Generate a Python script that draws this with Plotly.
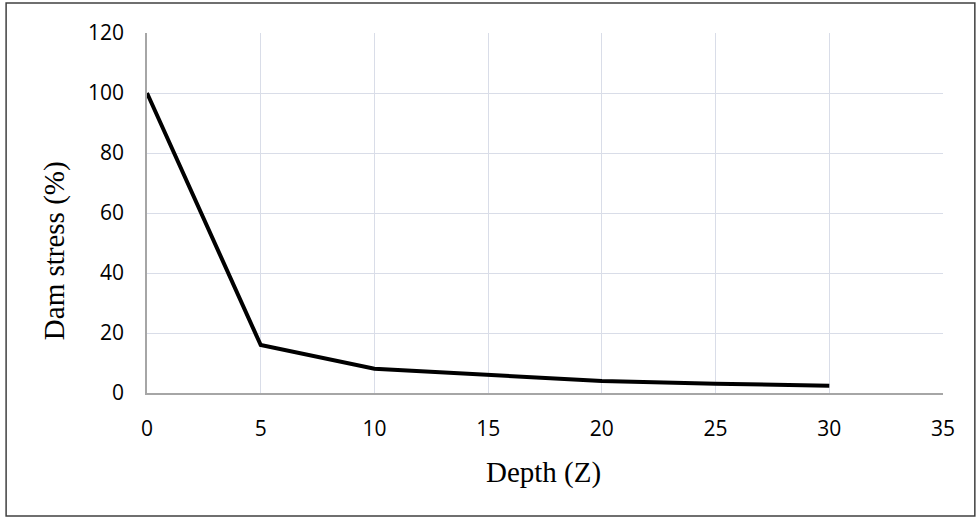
import plotly.graph_objects as go

depth = [0, 5, 10, 15, 20, 25, 30]
stress = [100, 16, 8.1, 5.9, 4.0, 3.1, 2.4]
x_ticks = [0, 5, 10, 15, 20, 25, 30, 35]
y_ticks = [0, 20, 40, 60, 80, 100, 120]

fig = go.Figure()
fig.add_trace(go.Scatter(x=depth, y=stress, mode="lines",
                         line=dict(color="black", width=4), showlegend=False))

grid = "#d9dde8"
tickfont = dict(family="Open Sans", size=21, color="black")
titlefont = dict(family="Liberation Serif", size=29, color="black")

fig.update_xaxes(range=[0, 35], tickvals=x_ticks, showgrid=True, gridcolor=grid, gridwidth=1,
                 zeroline=False, showline=True, linecolor="#a6a6a6", linewidth=1.5,
                 ticks="", ticklabelstandoff=16, tickfont=tickfont)
fig.update_yaxes(range=[0, 120], tickvals=y_ticks, showgrid=True, gridcolor=grid, gridwidth=1,
                 zeroline=False, showline=True, linecolor="#a6a6a6", linewidth=1.5,
                 ticks="", ticklabelstandoff=17, tickfont=tickfont)

fig.update_layout(
    width=979, height=518,
    margin=dict(l=147, r=36, t=33, b=125),
    plot_bgcolor="white", paper_bgcolor="white",
    shapes=[dict(type="rect", xref="paper", yref="paper",
                 x0=-0.177, x1=1.040, y0=-0.342, y1=1.083,
                 line=dict(color="#404040", width=1.5), fillcolor="rgba(0,0,0,0)")],
    annotations=[
        dict(text="Depth (Z)", xref="paper", yref="paper", x=0.4975, y=-0.222,
             xanchor="center", yanchor="middle", showarrow=False, font=titlefont),
        dict(text="Dam stress (%)", xref="paper", yref="paper", x=-0.1168, y=0.394,
             xanchor="center", yanchor="middle", textangle=-90, showarrow=False, font=titlefont),
    ],
)
fig.write_html("out.html", config={"displayModeBar": False},
               post_script="document.body.style.margin='0';")
